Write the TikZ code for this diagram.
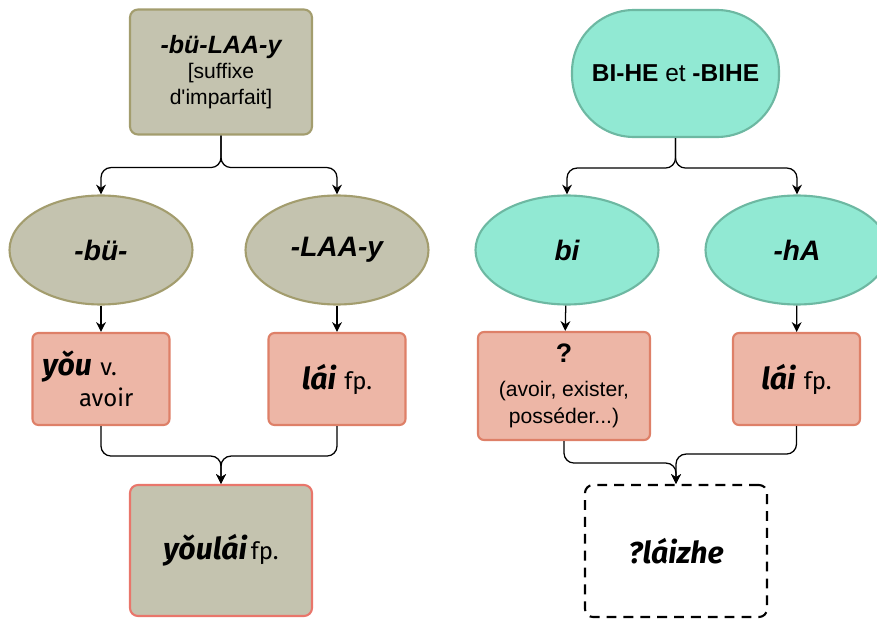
\documentclass[tikz,border=0pt]{standalone}
\usepackage{fontspec}
\setmainfont{Liberation Sans}
\newfontfamily\pinyinfont{Fira Sans}
\usepackage{xcolor}
\usetikzlibrary{positioning,shapes.geometric,arrows.meta}

\definecolor{beigefill}{HTML}{C4C3AF}
\definecolor{beigeline}{HTML}{A39D6E}
\definecolor{saumonfill}{HTML}{EDB6A6}
\definecolor{saumonline}{HTML}{DE8068}
\definecolor{rougeline}{HTML}{E9766B}
\definecolor{tealfill}{HTML}{91E9D3}
\definecolor{tealline}{HTML}{6DB8A2}

\newcommand{\pyb}[1]{{\pinyinfont\bfseries\itshape\fontsize{21.5}{24}\selectfont #1}}
\newcommand{\glose}[1]{{\pinyinfont\fontsize{17}{20}\selectfont #1}}

\begin{document}
\begin{tikzpicture}[
  link/.style={line width=0.9pt, -{Stealth[length=7pt,width=7pt]}, rounded corners=0.25cm},
  morph/.style={ellipse, draw, line width=1.5pt, minimum width=4.575cm, minimum height=2.725cm, font=\fontsize{20}{24}\selectfont\bfseries\itshape},
  mot/.style={rectangle, rounded corners=0.15cm, draw=saumonline, fill=saumonfill, line width=1.5pt, minimum height=2.3cm},
  big/.style={rectangle, rounded corners=0.2cm, line width=1.5pt, minimum width=4.55cm}
]
\useasboundingbox (0,0) rectangle (21.925,-15.475);

% partie gauche
\node[big, draw=beigeline, fill=beigefill, minimum height=3.125cm, align=center, font=\fontsize{15}{18}\selectfont] (t) at (5.525,-1.8) {{\fontsize{17.8}{20}\selectfont\bfseries\itshape -bü-LAA-y}\\{}[suffixe\\d\textquotesingle imparfait]};
\node[morph, draw=beigeline, fill=beigefill] (e1) at (2.525,-6.25) {-bü-};
\node[morph, draw=beigeline, fill=beigefill] (e2) at (8.425,-6.25) {-LAA-y};
\node[mot, minimum width=3.425cm, inner xsep=0.25cm, text width=2.925cm, align=left] (b1) at (2.525,-9.475) {\pyb{yǒu}\hspace{0.6em}\glose{v.}\\[3pt]\hspace*{26pt}\glose{avoir}};
\node[mot, minimum width=3.425cm] (b2) at (8.425,-9.475) {\pyb{lái}\hspace{0.6em}\glose{fp.}};
\node[big, draw=rougeline, fill=beigefill, minimum height=3.275cm] (r) at (5.525,-13.7625) {\pyb{yǒulái} \glose{fp.}};

\draw[link] (t.south) -- ++(0,-0.8) -| (e1.north);
\draw[link] (t.south) -- ++(0,-0.8) -| (e2.north);
\draw[link] (e1) -- (b1);
\draw[link] (e2) -- (b2);
\draw[link] (b1.south) -- ++(0,-0.75) -| (r.north);
\draw[link] (b2.south) -- ++(0,-0.75) -| (r.north);

% partie droite
\node[rectangle, rounded corners=1.55cm, draw=tealline, fill=tealfill, line width=1.5pt, minimum width=5.175cm, minimum height=3.175cm, font=\fontsize{17.4}{20}\selectfont] (T) at (16.8875,-1.8375) {\textbf{BI-HE} et \textbf{-BIHE}};
\node[morph, draw=tealline, fill=tealfill] (e3) at (14.175,-6.25) {bi};
\node[morph, draw=tealline, fill=tealfill] (e4) at (19.925,-6.25) {-hA};
\node[mot, minimum width=4.3cm, minimum height=2.7cm, align=center, font=\fontsize{15}{19}\selectfont] (q) at (14.1,-9.65) {{\fontsize{19}{20}\selectfont\bfseries ?}\\[5pt](avoir, exister,\\posséder...)};
\node[mot, minimum width=3.175cm] (b3) at (19.9125,-9.475) {\pyb{lái}\hspace{0.6em}\glose{fp.}};
\node[big, draw=black, fill=white, dash pattern=on 7pt off 5pt, minimum height=3.3cm] (d) at (16.9,-13.775) {\pyb{?láizhe}};

\draw[link] (T.south) -- ++(0,-0.75) -| (e3.north);
\draw[link] (T.south) -- ++(0,-0.75) -| (e4.north);
\draw[link] (e3) -- (q);
\draw[link] (e4) -- (b3);
\draw[link] (q.south) -- ++(0,-0.55) -| (d.north);
\draw[link] (b3.south) -- ++(0,-0.7) -| (d.north);
\end{tikzpicture}
\end{document}
